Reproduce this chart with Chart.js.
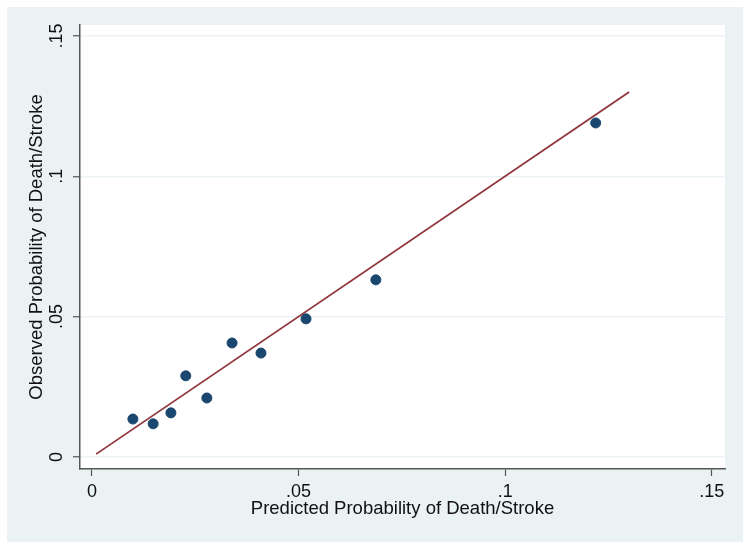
<!DOCTYPE html>
<html>
<head>
<meta charset="utf-8">
<script src="https://cdn.jsdelivr.net/npm/chart.js@4/dist/chart.umd.min.js"></script>
<style>
  html, body { margin: 0; padding: 0; background: #ffffff; }
  #wrap { width: 750px; height: 549px; position: relative; }
</style>
</head>
<body>
<div id="wrap"><canvas id="c" width="750" height="549"></canvas></div>
<script>
// Data
const predicted = [0.0099, 0.0148, 0.0191, 0.0227, 0.0278, 0.0339, 0.0409, 0.0518, 0.0687, 0.1219];
const observed  = [0.0135, 0.0118, 0.0157, 0.0289, 0.0210, 0.0406, 0.0370, 0.0492, 0.0631, 0.1190];
const fitX = [0.001, 0.130];
const fitY = [0.001, 0.130];
const tickValues = [0, 0.05, 0.1, 0.15];
const tickLabels = ['0', '.05', '.1', '.15'];
const xTitle = 'Predicted Probability of Death/Stroke';
const yTitle = 'Observed Probability of Death/Stroke';

const FONT = "'Liberation Sans', Arial, sans-serif";

const bgPlugin = {
  id: 'bg',
  beforeDraw(chart) {
    const ctx = chart.ctx;
    const a = chart.chartArea;
    ctx.save();
    ctx.fillStyle = '#ffffff';
    ctx.fillRect(0, 0, chart.width, chart.height);
    ctx.fillStyle = '#EAF2F3';
    ctx.fillRect(7, 7, chart.width - 14, chart.height - 14);
    ctx.fillStyle = '#ffffff';
    ctx.fillRect(a.left, a.top, a.right - a.left, a.bottom - a.top);
    ctx.restore();
  }
};

function labelFor(v) {
  for (let i = 0; i < tickValues.length; i++) {
    if (Math.abs(tickValues[i] - v) < 1e-9) return tickLabels[i];
  }
  return '';
}

new Chart(document.getElementById('c'), {
  type: 'scatter',
  data: {
    datasets: [
      {
        label: 'observed',
        data: predicted.map((x, i) => ({ x: x, y: observed[i] })),
        backgroundColor: '#1A476F',
        borderColor: '#1A476F',
        pointRadius: 5,
        pointHoverRadius: 5,
        order: 1
      },
      {
        label: 'reference',
        type: 'line',
        data: fitX.map((x, i) => ({ x: x, y: fitY[i] })),
        borderColor: '#90353B',
        borderWidth: 1.8,
        pointRadius: 0,
        fill: false,
        order: 2
      }
    ]
  },
  options: {
    responsive: false,
    animation: false,
    events: [],
    layout: { padding: { left: 0, top: 25, right: 25, bottom: 0 } },
    plugins: {
      legend: { display: false },
      tooltip: { enabled: false }
    },
    scales: {
      x: {
        type: 'linear',
        min: -0.0029,
        max: 0.1532,
        afterBuildTicks(scale) { scale.ticks = tickValues.map(v => ({ value: v })); },
        afterFit(scale) { scale.height = 80; },
        grid: {
          drawOnChartArea: false,
          drawTicks: true,
          tickLength: 7,
          tickColor: '#555555',
          tickWidth: 1.2
        },
        border: { display: true, color: '#555555', width: 1.5 },
        ticks: {
          color: '#111111',
          font: { family: FONT, size: 18 },
          padding: 5,
          maxRotation: 0,
          autoSkip: false,
          callback: (v) => labelFor(v)
        },
        title: {
          display: true,
          text: xTitle,
          color: '#111111',
          font: { family: FONT, size: 18.5 },
          padding: { top: 0, bottom: 29 }
        }
      },
      y: {
        type: 'linear',
        min: -0.0043,
        max: 0.1539,
        afterBuildTicks(scale) { scale.ticks = tickValues.map(v => ({ value: v })); },
        afterFit(scale) { scale.width = 80; },
        grid: {
          drawOnChartArea: true,
          color: '#EAF2F3',
          lineWidth: 1.5,
          drawTicks: true,
          tickLength: 7,
          tickColor: '#555555',
          tickWidth: 1.2
        },
        border: { display: true, color: '#555555', width: 1.5 },
        ticks: {
          color: '#111111',
          font: { family: FONT, size: 18 },
          padding: 3,
          minRotation: 90,
          maxRotation: 90,
          crossAlign: 'center',
          autoSkip: false,
          callback: (v) => labelFor(v)
        },
        title: {
          display: true,
          text: yTitle,
          color: '#111111',
          font: { family: FONT, size: 18.5 },
          padding: { top: 26, bottom: 0 }
        }
      }
    }
  },
  plugins: [bgPlugin]
});
</script>
</body>
</html>
